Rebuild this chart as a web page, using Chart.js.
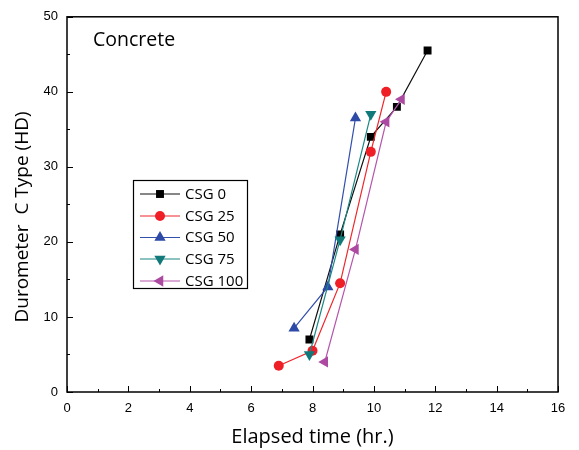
<!DOCTYPE html>
<html>
<head>
<meta charset="utf-8">
<title>Durometer hardness</title>
<script src="https://cdn.jsdelivr.net/npm/chart.js@4/dist/chart.umd.min.js"></script>
<style>
  html, body { margin: 0; padding: 0; background: #fff; }
  #wrap { width: 579px; height: 450px; position: relative; }
</style>
</head>
<body>
<div id="wrap"><canvas id="hdChart"></canvas></div>
<script>
// Hardness readings per mix (elapsed hours, HD value)
const seriesNames = ['CSG 0', 'CSG 25', 'CSG 50', 'CSG 75', 'CSG 100'];
const csg0Time = [7.9, 8.9, 9.9, 10.75, 11.75];
const csg0Hd = [7, 21, 34, 38, 45.5];
const csg25Time = [6.9, 8.0, 8.9, 9.9, 10.4];
const csg25Hd = [3.5, 5.5, 14.5, 32, 40];
const csg50Time = [7.4, 8.5, 9.4];
const csg50Hd = [8.5, 14, 36.5];
const csg75Time = [7.9, 8.9, 9.9];
const csg75Hd = [5, 20.3, 37];
const csg100Time = [8.4, 9.4, 10.4, 10.9];
const csg100Hd = [4, 19, 36, 39];

const xTicks = [0, 2, 4, 6, 8, 10, 12, 14, 16];
const yTicks = [0, 10, 20, 30, 40, 50];

const toPoints = (xs, ys) => xs.map((x, i) => ({ x: x, y: ys[i] }));

const styles = [
    { line: '#111111', fill: '#000000', shape: 'rect', radius: 5.6, rot: 0 },
    { line: '#f0262b', fill: '#ee1f26', shape: 'circle', radius: 5, rot: 0 },
    { line: '#3450ad', fill: '#2d4aa6', shape: 'triangle', radius: 6.5, rot: 0 },
    { line: '#1a8884', fill: '#12797a', shape: 'triangle', radius: 6.5, rot: 180 },
    { line: '#b556ac', fill: '#ac4aa2', shape: 'triangle', radius: 6.5, rot: 270 }
];
const seriesData = [
    toPoints(csg0Time, csg0Hd),
    toPoints(csg25Time, csg25Hd),
    toPoints(csg50Time, csg50Hd),
    toPoints(csg75Time, csg75Hd),
    toPoints(csg100Time, csg100Hd)
];

const datasets = seriesNames.map((name, i) => ({
    label: name,
    data: seriesData[i],
    showLine: true,
    borderColor: styles[i].line,
    borderWidth: 1.2,
    backgroundColor: styles[i].fill,
    pointStyle: styles[i].shape,
    pointRadius: styles[i].radius,
    pointRotation: styles[i].rot,
    pointBorderWidth: 0,
    pointBackgroundColor: styles[i].fill,
    order: 5 - i
}));

// frame, inward ticks, y title, inset legend and sample label
const framePlugin = {
    id: 'frame',
    afterDraw(chart) {
        const ctx = chart.ctx;
        const a = chart.chartArea;
        const xs = chart.scales.x, ys = chart.scales.y;
        ctx.save();
        ctx.strokeStyle = '#000';
        ctx.lineWidth = 1.5;
        ctx.strokeRect(a.left, a.top, a.right - a.left, a.bottom - a.top);

        ctx.lineWidth = 1;
        ctx.beginPath();
        for (let v = 0; v <= 16; v++) {
            const px = Math.round(xs.getPixelForValue(v)) + 0.5;
            const len = v % 2 === 0 ? 6 : 3;
            ctx.moveTo(px, a.bottom);
            ctx.lineTo(px, a.bottom - len);
        }
        for (let v = 0; v <= 50; v += 5) {
            const py = Math.round(ys.getPixelForValue(v)) + 0.5;
            const len = v % 10 === 0 ? 6 : 3;
            ctx.moveTo(a.left, py);
            ctx.lineTo(a.left + len, py);
        }
        ctx.stroke();

        ctx.fillStyle = '#000';
        ctx.textBaseline = 'middle';

        // y axis title
        ctx.save();
        ctx.translate(23, 217);
        ctx.rotate(-Math.PI / 2);
        ctx.textAlign = 'center';
        ctx.font = '19px "Open Sans"';
        ctx.fillText('Durometer  C Type (HD)', 0, 0);
        ctx.restore();

        ctx.textAlign = 'left';
        ctx.font = '19.5px "Open Sans"';
        ctx.fillText('Concrete', 93, 40);

        // legend box
        const bx = 133.5, by = 180.5, bw = 114, bh = 108;
        ctx.lineWidth = 1.2;
        ctx.strokeRect(bx, by, bw, bh);
        const rowY = [194, 216, 237.5, 259, 281];
        ctx.font = '15px "Open Sans"';
        datasets.forEach((ds, i) => {
            const y = rowY[i];
            ctx.strokeStyle = ds.borderColor;
            ctx.lineWidth = 1.2;
            ctx.beginPath();
            ctx.moveTo(140, y);
            ctx.lineTo(180, y);
            ctx.stroke();
            ctx.fillStyle = ds.pointBackgroundColor;
            Chart.helpers.drawPoint(ctx, {
                pointStyle: ds.pointStyle,
                radius: ds.pointRadius,
                rotation: ds.pointRotation,
                borderWidth: 0
            }, 160, y);
            ctx.fillStyle = '#000';
            ctx.fillText(ds.label, 185, y + 0.5);
        });
        ctx.restore();
    }
};

new Chart(document.getElementById('hdChart'), {
    type: 'scatter',
    data: { datasets: datasets },
    options: {
        responsive: true,
        maintainAspectRatio: false,
        animation: false,
        layout: { padding: { left: 0, right: 21, top: 15, bottom: 0 } },
        plugins: {
            legend: { display: false },
            tooltip: { enabled: false }
        },
        scales: {
            x: {
                type: 'linear',
                min: 0,
                max: 16,
                afterBuildTicks: (s) => { s.ticks = xTicks.map(v => ({ value: v })); },
                afterFit: (s) => { s.height = 58; },
                grid: { display: false, drawTicks: false },
                border: { display: false },
                ticks: { color: '#000', font: { family: 'Liberation Sans', size: 13 }, padding: 9 },
                title: {
                    display: true,
                    text: 'Elapsed time (hr.)',
                    color: '#000',
                    font: { family: 'Open Sans', size: 20 },
                    padding: { top: 0, bottom: 1 }
                }
            },
            y: {
                type: 'linear',
                min: 0,
                max: 50,
                afterBuildTicks: (s) => { s.ticks = yTicks.map(v => ({ value: v })); },
                afterFit: (s) => { s.width = 67; },
                grid: { display: false, drawTicks: false },
                border: { display: false },
                ticks: { color: '#000', font: { family: 'Liberation Sans', size: 13 }, padding: 9 },
                title: { display: false }
            }
        }
    },
    plugins: [framePlugin]
});
</script>
</body>
</html>
